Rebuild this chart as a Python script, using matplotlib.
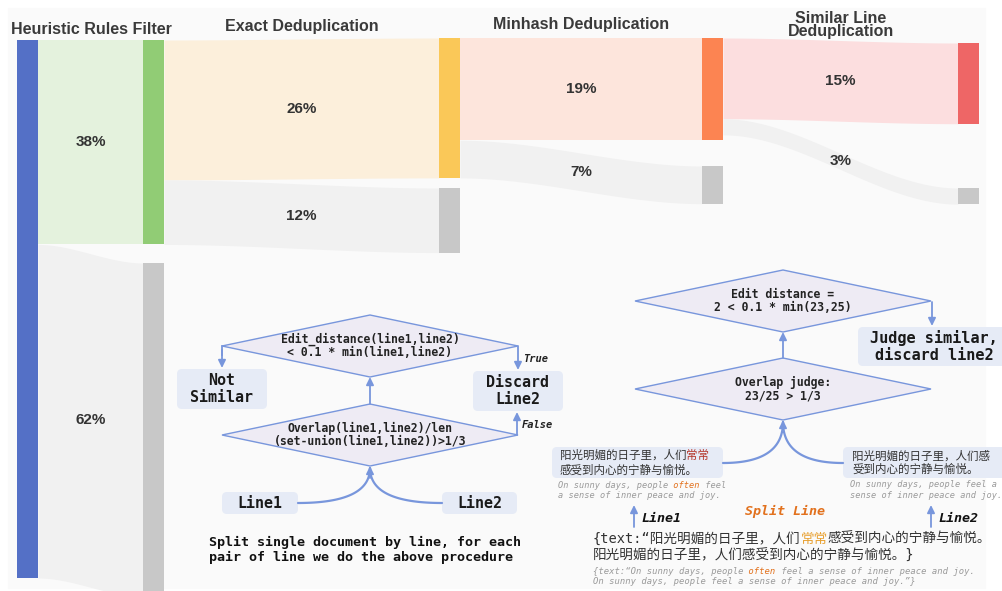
import matplotlib

matplotlib.use("Agg")
import matplotlib.pyplot as plt  # noqa: E402
import numpy as np  # noqa: E402
from matplotlib.patches import FancyBboxPatch, Polygon, Rectangle  # noqa: E402

# ---- data -------------------------------------------------------------------
stage_titles = ["Heuristic Rules Filter", "Exact Deduplication",
                "Minhash Deduplication", "Similar Line\nDeduplication"]
total = 100
kept_pct = [38, 26, 19, 15]
removed_pct = [62, 12, 7, 3]

left_diamonds = ["Edit_distance(line1,line2)\n< 0.1 * min(line1,line2)",
                 "Overlap(line1,line2)/len\n(set-union(line1,line2))>1/3"]
right_diamonds = ["Edit distance =\n2 < 0.1 * min(23,25)",
                  "Overlap judge:\n23/25 > 1/3"]

zh_line1 = [("阳光明媚的日子里，人们", "#333333"), ("常常", "#b5362b")]
zh_line1_b = "感受到内心的宁静与愉悦。"
zh_line2 = "阳光明媚的日子里，人们感\n受到内心的宁静与愉悦。"
en_line1 = [("On sunny days, people", "#9a9a9a"), (" often", "#e2711d"), (" feel", "#9a9a9a")]
en_line1_b = "a sense of inner peace and joy."
en_line2 = "On sunny days, people feel a\nsense of inner peace and joy."
doc_zh = [[("{text:“阳光明媚的日子里，人们", "#333333"), ("常常", "#e8a030"),
           ("感受到内心的宁静与愉悦。", "#333333")],
          [("阳光明媚的日子里，人们感受到内心的宁静与愉悦。}", "#333333")]]
doc_en = [[("{text:“On sunny days, people", "#9a9a9a"), (" often", "#e2711d"),
           (" feel a sense of inner peace and joy.", "#9a9a9a")],
          [("On sunny days, people feel a sense of inner peace and joy.”}", "#9a9a9a")]]

# ---- layout / style ---------------------------------------------------------
W, H = 1002, 591
PX = 538 / total            # pixels per percent
NODE_W = 21
stage_x = [17, 143, 439, 702, 958]
kept_top = [40, 40, 38, 38, 43]      # first entry: source node
removed_top = [263, 188, 166, 188]
title_xy = [(91, 30), (302, 27), (581, 24), (841, 25)]
node_colors = ["#5470c6", "#91cc75", "#fac858", "#fc8452", "#ee6666"]
link_colors = ["#e4f2dd", "#fcefdb", "#fde5dc", "#fcdedf"]
GRAY_NODE, GRAY_LINK = "#c8c8c8", "#f1f1f1"
EDGE = "#7896dc"
BOX = "#e6ebf6"
DIA = "#eeebf4"
MONO = "DejaVu Sans Mono"
CJK = "Noto Sans CJK SC"
SANS = "Liberation Sans"

fig = plt.figure(figsize=(W / 100, H / 100), dpi=100)
ax = fig.add_axes([0, 0, 1, 1])
ax.set_xlim(0, W)
ax.set_ylim(H, 0)
ax.axis("off")
ax.add_patch(Rectangle((8, 8), 977, 580, color="#fafafa", zorder=0))


def link(x0, x1, s0, s1, t0, t1, color):
    t = np.linspace(0, 1, 80)
    k = 3 * t ** 2 - 2 * t ** 3
    xs = x0 + (x1 - x0) * t
    ax.fill_between(xs, s0 + (t0 - s0) * k, s1 + (t1 - s1) * k,
                    color=color, lw=0, zorder=1)


def node(x, y, h, color):
    ax.add_patch(Rectangle((x, y), NODE_W, h, color=color, lw=0, zorder=2))


def pct_label(x, y, v):
    ax.text(x, y, f"{v}%", ha="center", va="center", fontsize=11, fontweight="bold",
            family=SANS, color="#333333", zorder=3)


# ---- sankey -----------------------------------------------------------------
node(stage_x[0], kept_top[0], total * PX, node_colors[0])
for i in range(4):
    xs = stage_x[i] + NODE_W
    xt = stage_x[i + 1]
    sy = kept_top[i]
    kh = kept_pct[i] * PX
    rh = removed_pct[i] * PX
    ty = kept_top[i + 1]
    ry = removed_top[i]
    link(xs, xt, sy, sy + kh, ty, ty + kh, link_colors[i])
    link(xs, xt, sy + kh, sy + kh + rh, ry, ry + rh, GRAY_LINK)
    node(xt, ty, kh, node_colors[i + 1])
    node(xt, ry, rh, GRAY_NODE)
    xm = (xs + xt) / 2
    pct_label(xm, (sy + ty) / 2 + kh / 2, kept_pct[i])
    pct_label(xm, (sy + kh + ry) / 2 + rh / 2, removed_pct[i])
    tx, tyy = title_xy[i]
    ax.text(tx, tyy, stage_titles[i], ha="center", va="center", fontsize=11.5,
            fontweight="bold", family=SANS, color="#3a3a3a", linespacing=0.88, zorder=3)


# ---- helpers for the flowcharts ---------------------------------------------
def diamond(cx, cy, hw, hh, label):
    ax.add_patch(Polygon([(cx - hw, cy), (cx, cy - hh), (cx + hw, cy), (cx, cy + hh)],
                         closed=True, facecolor=DIA, edgecolor=EDGE, lw=1, zorder=2))
    ax.text(cx, cy, label, ha="center", va="center", fontsize=8.3, family=MONO,
            fontweight="bold", color="#222222", linespacing=1.05, zorder=3)


def box(x0, y0, x1, y1, label, size):
    ax.add_patch(FancyBboxPatch((x0, y0), x1 - x0, y1 - y0,
                                boxstyle="round,pad=0,rounding_size=5",
                                facecolor=BOX, edgecolor="none", zorder=2))
    if label:
        ax.text((x0 + x1) / 2, (y0 + y1) / 2, label, ha="center", va="center",
                fontsize=size, family=MONO, fontweight="bold", color="#1a1a1a",
                linespacing=1.1, zorder=3)


def arrow(x0, y0, x1, y1):
    ax.annotate("", xy=(x1, y1), xytext=(x0, y0), zorder=3,
                arrowprops=dict(arrowstyle="-|>,head_length=0.45,head_width=0.22",
                                color=EDGE, lw=1.3, shrinkA=0, shrinkB=0))


def curve(x0, y0, x1, y1):
    t = np.linspace(0, 1, 60)
    cx, cy = x1, y0
    xs = (1 - t) ** 2 * x0 + 2 * (1 - t) * t * cx + t ** 2 * x1
    ys = (1 - t) ** 2 * y0 + 2 * (1 - t) * t * cy + t ** 2 * y1
    ax.plot(xs, ys, color=EDGE, lw=1.6, zorder=3, solid_capstyle="round")


def segs(x, y, parts, **kw):
    prev = ax.text(x, y, parts[0][0], color=parts[0][1], ha="left", va="center",
                   zorder=4, **kw)
    for s, c in parts[1:]:
        prev = ax.annotate(s, xy=(1, 0), xycoords=prev, ha="left", va="bottom",
                           color=c, zorder=4, **kw)


# ---- left flowchart ---------------------------------------------------------
diamond(370, 346, 148, 31, left_diamonds[0])
diamond(370, 435, 148, 31, left_diamonds[1])
arrow(370, 404, 370, 377)
ax.plot([222, 222], [346, 355], color=EDGE, lw=1.3, zorder=3)
arrow(222, 350, 222, 368)
arrow(518, 346, 518, 370)
arrow(517, 435, 517, 412)
box(177, 369, 267, 409, "Not\nSimilar", 10.8)
box(473, 371, 563, 411, "Discard\nLine2", 10.8)
ax.text(523, 359, "True", fontsize=7.5, family=MONO, fontweight="bold",
        style="italic", color="#222222", va="center", zorder=3)
ax.text(522, 425, "False", fontsize=7.5, family=MONO, fontweight="bold",
        style="italic", color="#222222", va="center", zorder=3)
box(222, 492, 298, 514, "Line1", 10.8)
box(442, 492, 517, 514, "Line2", 10.8)
curve(298, 503, 370, 468)
curve(442, 503, 370, 468)
arrow(370, 478, 370, 466)
ax.text(209, 550, "Split single document by line, for each\npair of line we do the above procedure",
        ha="left", va="center", fontsize=9.6, family=MONO, fontweight="bold",
        color="#111111", linespacing=1.15, zorder=3)

# ---- right flowchart --------------------------------------------------------
diamond(783, 301, 148, 31, right_diamonds[0])
diamond(783, 389, 148, 31, right_diamonds[1])
arrow(783, 358, 783, 332)
arrow(932, 302, 932, 326)
box(858, 327, 1010, 366, "Judge similar,\ndiscard line2", 11)

box(552, 447, 723, 478, None, 0)
box(843, 447, 1010, 478, None, 0)
segs(560, 455, zh_line1, fontsize=8.3, family=CJK)
ax.text(560, 470, zh_line1_b, fontsize=8.3, family=CJK, color="#333333",
        ha="left", va="center", zorder=4)
ax.text(852, 462.5, zh_line2, fontsize=8.3, family=CJK, color="#333333",
        ha="left", va="center", linespacing=1.05, zorder=4)
segs(558, 485, en_line1, fontsize=6.2, family=MONO, style="italic")
ax.text(558, 495, en_line1_b, fontsize=6.2, family=MONO, style="italic",
        color="#9a9a9a", ha="left", va="center", zorder=4)
ax.text(850, 490, en_line2, fontsize=6.2, family=MONO, style="italic",
        color="#9a9a9a", ha="left", va="center", linespacing=1.2, zorder=4)

curve(723, 463, 783, 422)
curve(843, 463, 783, 422)
arrow(783, 432, 783, 420)

ax.text(785, 511, "Split Line", ha="center", va="center", fontsize=9.6, family=MONO,
        fontweight="bold", style="italic", color="#e2711d", zorder=4)
arrow(634, 527, 634, 505)
arrow(931, 527, 931, 505)
ax.text(641, 519, "Line1", ha="left", va="center", fontsize=9.6, family=MONO,
        fontweight="bold", style="italic", color="#111111", zorder=4)
ax.text(938, 518, "Line2", ha="left", va="center", fontsize=9.6, family=MONO,
        fontweight="bold", style="italic", color="#111111", zorder=4)

for row, yy in zip(doc_zh, [539, 556]):
    segs(593, yy, row, fontsize=9.8, family=[MONO, CJK])
for row, yy in zip(doc_en, [572, 581]):
    segs(593, yy, row, fontsize=6.4, family=MONO, style="italic")

fig.savefig("out.png", dpi=100, facecolor="white")
